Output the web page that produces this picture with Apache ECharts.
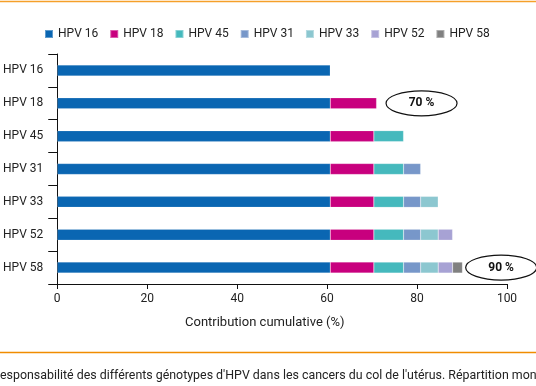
<!DOCTYPE html>
<html>
<head>
<meta charset="utf-8">
<script src="https://cdn.jsdelivr.net/npm/echarts@6/dist/echarts.min.js"></script>
<style>
html,body{margin:0;padding:0;background:#fff;}
#c{width:536px;height:386px;}
</style>
</head>
<body>
<div id="c"></div>
<script>
const categories = ['HPV 16','HPV 18','HPV 45','HPV 31','HPV 33','HPV 52','HPV 58'];
const seriesNames = ['HPV 16','HPV 18','HPV 45','HPV 31','HPV 33','HPV 52','HPV 58'];
const hpv16 = [60.7, 60.7, 60.7, 60.7, 60.7, 60.7, 60.7];
const hpv18 = [null, 10.3, 9.7, 9.7, 9.7, 9.7, 9.7];
const hpv45 = [null, null, 6.6, 6.6, 6.6, 6.6, 6.6];
const hpv31 = [null, null, null, 3.8, 3.8, 3.8, 3.8];
const hpv33 = [null, null, null, null, 3.9, 3.9, 3.9];
const hpv52 = [null, null, null, null, null, 3.2, 3.2];
const hpv58 = [null, null, null, null, null, null, 2.2];
const xTicks = [0, 20, 40, 60, 80, 100];
const annotations = [
  {label: '70 %', category: 'HPV 18', value: 81},
  {label: '90 %', category: 'HPV 58', value: 98.7}
];
const captionText = "esponsabilité des différents génotypes d'HPV dans les cancers du col de l'utérus. Répartition mon";
const axisTitle = 'Contribution cumulative (%)';

const colors = ['#0a66b2','#c8007e','#45b9bd','#7797c9','#8cc7d0','#a7a2d4','#808080'];
const allData = [hpv16, hpv18, hpv45, hpv31, hpv33, hpv52, hpv58];
const FONT = 'Roboto';

const chart = echarts.init(document.getElementById('c'), null, {renderer: 'canvas'});
const option = {
  animation: false,
  backgroundColor: '#fff',
  textStyle: {fontFamily: FONT},
  legend: {
    top: 28, left: 44, padding: 0,
    itemWidth: 8, itemHeight: 8, itemGap: 11,
    icon: 'rect',
    textStyle: {fontFamily: FONT, fontSize: 12, color: '#222'},
    data: seriesNames
  },
  grid: {left: 57, right: 29, top: 54, bottom: 102, containLabel: false},
  xAxis: {
    type: 'value', min: xTicks[0], max: xTicks[xTicks.length-1], interval: 20,
    axisLine: {show: true, lineStyle: {color: '#111', width: 1}},
    axisTick: {show: true, length: 5, lineStyle: {color: '#111'}},
    splitLine: {show: false},
    axisLabel: {fontFamily: FONT, fontSize: 12, color: '#222', margin: 9}
  },
  yAxis: {
    type: 'category', data: categories, inverse: true,
    axisLine: {show: true, lineStyle: {color: '#111', width: 1}},
    axisTick: {show: true, length: 9, alignWithLabel: false, lineStyle: {color: '#111'}},
    axisLabel: {fontFamily: FONT, fontSize: 12, color: '#222', margin: 14}
  },
  series: seriesNames.map((n, i) => ({
    name: n, type: 'bar', stack: 'total', barWidth: 11,
    data: allData[i],
    itemStyle: {color: colors[i], borderColor: 'rgba(255,255,255,0.35)', borderWidth: 0.5},
    emphasis: {disabled: true}
  })),
  graphic: [
    {type: 'line', shape: {x1: 0, y1: 1.5, x2: 536, y2: 1.5}, style: {stroke: '#f5a02a', lineWidth: 1.5}},
    {type: 'line', shape: {x1: 0, y1: 352.5, x2: 536, y2: 352.5}, style: {stroke: '#f08c00', lineWidth: 1.5}},
    {type: 'text', left: 185, top: 316, style: {text: axisTitle, font: '13px ' + FONT, fill: '#222'}},
    {type: 'text', left: 0, top: 370, style: {text: captionText, font: '12.4px ' + FONT, fill: '#222'}}
  ]
};
chart.setOption(option);

const extra = [];
annotations.forEach(a => {
  const p = chart.convertToPixel({gridIndex: 0}, [a.value, a.category]);
  extra.push({type: 'ellipse', shape: {cx: p[0], cy: p[1], rx: 35.5, ry: 12.5},
    style: {fill: '#fff', stroke: '#111', lineWidth: 1.2}, z: 10});
  extra.push({type: 'text', x: p[0], y: p[1], z: 11,
    style: {text: a.label, font: 'bold 12px ' + FONT, fill: '#111', align: 'center', verticalAlign: 'middle'}});
});
chart.setOption({graphic: option.graphic.concat(extra)});
</script>
</body>
</html>
